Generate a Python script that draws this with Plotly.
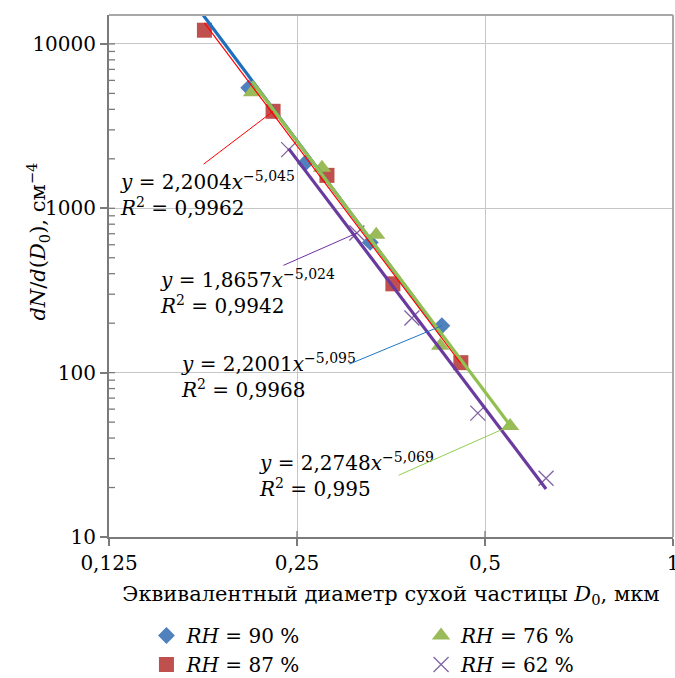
import numpy as np
import plotly.graph_objects as go

# Measured particle size distributions at four relative humidities
D_90 = [0.2092, 0.2578, 0.3275, 0.4265]
N_90 = [5403, 1887, 620, 193]
D_87 = [0.1777, 0.2289, 0.2792, 0.356, 0.4574]
N_87 = [12118, 3891, 1586, 347, 115]
D_76 = [0.2118, 0.2741, 0.3348, 0.4238, 0.5485]
N_76 = [5081, 1767, 691, 146, 47.4]
D_62 = [0.2424, 0.3118, 0.3819, 0.4869, 0.6262]
N_62 = [2275, 707, 215, 56.7, 22.8]

# Power-law fits y = a * x^b
fit_a = {"90": 2.2001, "87": 2.2004, "76": 2.2748, "62": 1.8657}
fit_b = {"90": -5.095, "87": -5.045, "76": -5.069, "62": -5.024}
fit_r2 = {"90": "0,9968", "87": "0,9962", "76": "0,995", "62": "0,9942"}
fit_span = {"90": [0.173, 0.4265], "87": [0.1777, 0.4574],
            "76": [0.2118, 0.5485], "62": [0.2424, 0.6262]}

x_ticks = [0.125, 0.25, 0.5, 1]
x_ticktext = ["0,125", "0,25", "0,5", "1"]
y_ticks = [10, 100, 1000, 10000]
y_ticktext = ["10", "100", "1000", "10000"]

FONT = "DejaVu Serif"
AXIS_GREY = "#7A7A7A"
FRAME_GREY = "#A8A8A8"
W, H = 675, 678
ML, MR, MT, MB = 108.5, 1.7, 15, 141
PW, PH = W - ML - MR, H - MT - MB
X_LO, X_HI = np.log10(0.125), 0.0
Y_LO, Y_TOP = 1.0, 4.176

def px(xp):
    return (xp - ML) / PW

def py(yp):
    return (H - MB - yp) / PH

fig = go.Figure()

# inner tick marks on the axes, built from the tick positions
x_len = 10 ** (X_LO + 6 / PW * (X_HI - X_LO))      # 6 px to the right of x = 0.125
y_len = 10 ** (Y_LO + 6 / PH * (Y_TOP - Y_LO))     # 6 px above y = 10
tx, ty = [], []
minor_y = [m * 10 ** e for e in range(1, 5) for m in range(2, 10)
           if np.log10(m * 10 ** e) <= Y_TOP]
for v in minor_y + y_ticks[1:]:
    tx += [x_ticks[0], x_len, None]
    ty += [v, v, None]
for v in x_ticks[1:-1]:
    tx += [v, v, None]
    ty += [y_ticks[0], y_len, None]
fig.add_trace(go.Scatter(x=tx, y=ty, mode="lines", connectgaps=False,
                         line=dict(color=AXIS_GREY, width=1.3),
                         showlegend=False, hoverinfo="skip"))

# data markers (left legend column: 90, 87; right column: 76, 62)
series = [
    ("90", D_90, N_90, dict(symbol="diamond", size=13, color="#4F81BD"), "legend"),
    ("87", D_87, N_87, dict(symbol="square", size=15, color="#C0504D"), "legend"),
    ("76", D_76, N_76, dict(symbol="triangle-up", size=16, color="#9BBB59"), "legend2"),
    ("62", D_62, N_62, dict(symbol="x-thin", size=15, color="#8064A2",
                             line=dict(width=1.3, color="#8064A2")), "legend2"),
]
for key, d, n, mk, lg in series:
    fig.add_trace(go.Scatter(
        x=d, y=n, mode="markers", marker=mk, legend=lg,
        name=f"<i>RH</i> = {key} %", showlegend=True, cliponaxis=False))

# trend lines
trend_style = {"90": ("#1F6FBF", 3.2), "87": ("#FF0000", 1.2),
               "76": ("#92C050", 3.2), "62": ("#6A3A9E", 3.2)}
for key in ["90", "87", "76", "62"]:
    lo, hi = fit_span[key]
    xs = np.geomspace(lo, hi, 60)
    ys = fit_a[key] * xs ** fit_b[key]
    col, wid = trend_style[key]
    fig.add_trace(go.Scatter(x=xs, y=ys, mode="lines",
                             line=dict(color=col, width=wid),
                             showlegend=False, hoverinfo="skip"))

def eq_text(key):
    a = f"{fit_a[key]:.4f}".replace(".", ",")
    b = f"{-fit_b[key]:.3f}".replace(".", ",")
    return (f"<i>y</i> = {a}<i>x</i><sup>\u2212{b}</sup><br>"
            f"<i>R</i><sup>2</sup> = {fit_r2[key]}")

# equation labels: (key, left px, centre px, leader target, leader offset)
labels = [
    ("87", 118, 194, (D_87[1], N_87[1]), (-71, 54), "#FF0000"),
    ("62", 158, 292, (D_62[1], N_62[1]), (-75, 33), "#7030A0"),
    ("90", 179, 376, (D_90[3], N_90[3]), (-94, 39), "#1F77C4"),
    ("76", 257, 475, (D_76[4], N_76[4]), (-113, 50), "#92D050"),
]
for key, lx, cy, (tgx, tgy), (ax, ay), col in labels:
    fig.add_annotation(x=px(lx), y=py(cy), xref="paper", yref="paper",
                       xanchor="left", yanchor="middle", align="left",
                       text=eq_text(key), showarrow=False,
                       font=dict(family=FONT, size=20, color="#000"))
    fig.add_annotation(x=np.log10(tgx), y=np.log10(tgy), xref="x", yref="y",
                       text="", showarrow=True, arrowhead=0, arrowwidth=1,
                       arrowcolor=col, ax=ax, ay=ay, standoff=0)

# y-axis title
fig.add_annotation(x=px(37), y=py(242), xref="paper", yref="paper",
                   xanchor="center", yanchor="middle",
                   text="<i>dN</i>/<i>d</i>(<i>D</i><sub>0</sub>), см<sup>\u22124</sup>",
                   textangle=-90, showarrow=False,
                   font=dict(family=FONT, size=21, color="#000"))

# light frame on the top and right sides
fig.add_shape(type="line", xref="paper", yref="paper", x0=0, x1=1, y0=1, y1=1,
              line=dict(color=FRAME_GREY, width=2))
fig.add_shape(type="line", xref="paper", yref="paper", x0=1, x1=1, y0=0, y1=1,
              line=dict(color=FRAME_GREY, width=2))

axis_common = dict(type="log", showline=True, linecolor=AXIS_GREY, linewidth=2,
                   mirror=False, ticks="outside", ticklen=7, tickcolor=AXIS_GREY,
                   tickwidth=1.5, gridcolor="#C6C6C6", gridwidth=1,
                   zeroline=False, ticklabeloverflow="allow",
                   tickfont=dict(family=FONT, size=20, color="#000"))

fig.update_xaxes(**axis_common, range=[X_LO, X_HI],
                 tickmode="array", tickvals=x_ticks, ticktext=x_ticktext,
                 title=dict(text="Эквивалентный диаметр сухой частицы <i>D</i><sub>0</sub>, мкм",
                            font=dict(family=FONT, size=21, color="#000"),
                            standoff=12))
fig.update_yaxes(**axis_common, range=[Y_LO, Y_TOP],
                 tickmode="array", tickvals=y_ticks, ticktext=y_ticktext)

legend_common = dict(orientation="v", xanchor="left", yanchor="top",
                     font=dict(family=FONT, size=20, color="#000"),
                     itemwidth=30, tracegroupgap=0, bgcolor="rgba(0,0,0,0)")

fig.update_layout(
    width=W, height=H,
    margin=dict(l=ML, r=MR, t=MT, b=MB, autoexpand=False),
    plot_bgcolor="white", paper_bgcolor="white",
    font=dict(family=FONT, color="#000"),
    legend=dict(x=px(146), y=py(616), **legend_common),
    legend2=dict(x=px(421), y=py(616), **legend_common),
)

fig.write_html("out.html")
